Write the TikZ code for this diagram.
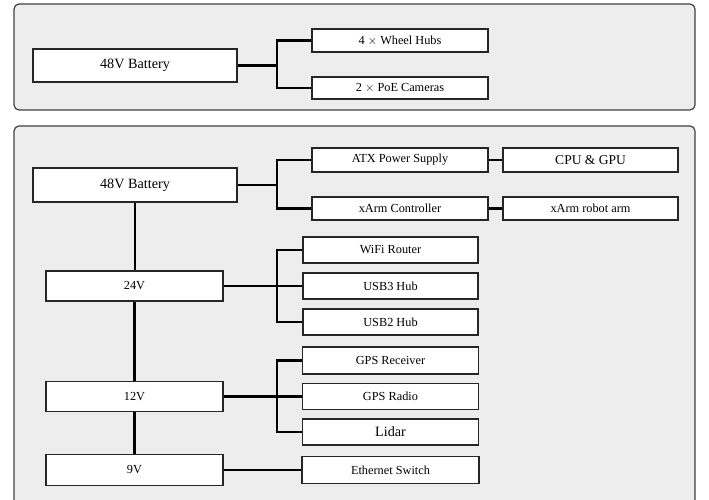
\documentclass[tikz,border=0pt]{standalone}
\usepackage{fontspec}
\setmainfont{Liberation Serif}
\begin{document}
\begin{tikzpicture}[x=1pt,y=-1pt,
  panel/.style={draw=black!75,line width=1.2pt,fill=panelgray,rounded corners=5pt},
  box/.style={draw=black!85,line width=1.1pt,fill=white,rectangle,inner sep=0pt,font=\fontsize{12.3}{14}\selectfont},
  bigbox/.style={box,font=\fontsize{14.2}{16}\selectfont},
  wire/.style={line width=2.2pt,black}]
\definecolor{panelgray}{HTML}{EDEDED}
\useasboundingbox (0,0) rectangle (709,500);
\path[panel] (14,4) rectangle (695,110);
\path[panel] (14,126) rectangle (695,520);
% top panel
\node[bigbox,minimum width=204pt,minimum height=33pt] (bat1) at (135,65.5) {48V Battery};
\node[box,minimum width=176pt,minimum height=23pt] (wheel) at (400,40.5) {4 $\times$ Wheel Hubs};
\node[box,minimum width=176pt,minimum height=22pt] (cam) at (400,88) {2 $\times$ PoE Cameras};
\coordinate (j1) at (277,65.5);
\draw[wire] (bat1.east) -- (j1);
\draw[wire] (wheel.west) -| (j1) |- (cam.west);
% bottom panel
\node[bigbox,minimum width=204pt,minimum height=34pt] (bat2) at (135,185) {48V Battery};
\node[box,minimum width=176pt,minimum height=24pt] (atx) at (400,160) {ATX Power Supply};
\node[box,minimum width=175pt,minimum height=24pt,font=\fontsize{13.5}{15}\selectfont] (cpu) at (590.5,160) {CPU \& GPU};
\node[box,minimum width=176pt,minimum height=23pt] (xc) at (400,208.5) {xArm Controller};
\node[box,minimum width=175pt,minimum height=23pt] (xa) at (590.5,208.5) {xArm robot arm};
\coordinate (j2) at (277,185);
\draw[wire] (bat2.east) -- (j2);
\draw[wire] (atx.west) -| (j2) |- (xc.west);
\draw[wire] (atx.east) -- (cpu.west);
\draw[wire] (xc.east) -- (xa.west);
% 24V
\node[box,minimum width=177pt,minimum height=30pt] (v24) at (134.5,286) {24V};
\node[box,minimum width=175pt,minimum height=26pt] (wifi) at (390.5,250) {WiFi Router};
\node[box,minimum width=175pt,minimum height=26pt] (usb3) at (390.5,286) {USB3 Hub};
\node[box,minimum width=175pt,minimum height=26pt] (usb2) at (390.5,322) {USB2 Hub};
\coordinate (j3) at (277,286);
\draw[wire] (v24.east) -- (usb3.west);
\draw[wire] (wifi.west) -| (j3) |- (usb2.west);
% 12V
\node[box,minimum width=177pt,minimum height=30pt] (v12) at (134.5,396.5) {12V};
\node[box,minimum width=176pt,minimum height=27pt] (gpsr) at (390.5,360.5) {GPS Receiver};
\node[box,minimum width=176pt,minimum height=26pt] (gpsradio) at (390.5,396.5) {GPS Radio};
\node[bigbox,minimum width=176pt,minimum height=26pt] (lidar) at (390.5,432) {Lidar};
\coordinate (j4) at (277,396.5);
\draw[wire] (v12.east) -- (gpsradio.west);
\draw[wire] (gpsr.west) -| (j4) |- (lidar.west);
% 9V
\node[box,minimum width=177pt,minimum height=31pt] (v9) at (134.5,470) {9V};
\node[box,minimum width=177pt,minimum height=27pt] (eth) at (390.5,470) {Ethernet Switch};
\draw[wire] (v9.east) -- (eth.west);
% trunk
\draw[wire] (bat2.south) -- (bat2.south |- v24.north);
\draw[wire] (v24.south) -- (v12.north);
\draw[wire] (v12.south) -- (v9.north);
\end{tikzpicture}
\end{document}
